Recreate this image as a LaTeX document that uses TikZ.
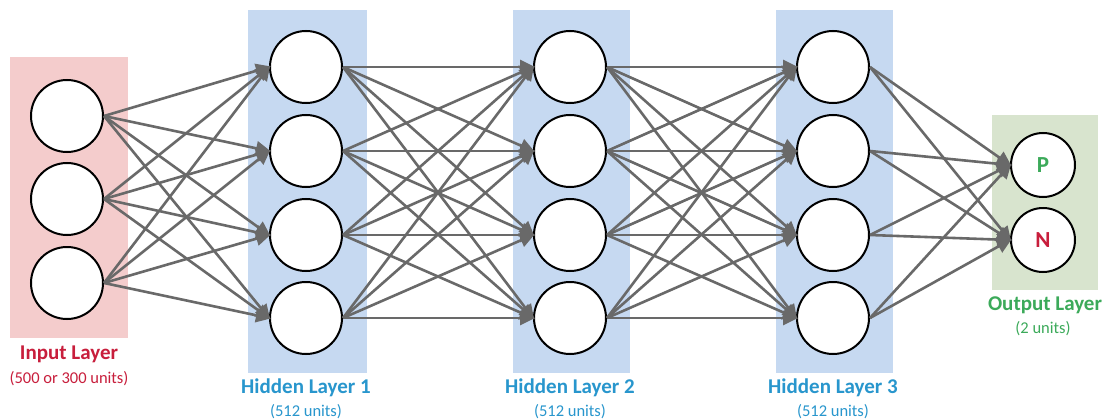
\documentclass[tikz,border=0pt]{standalone}
\usepackage{fontspec}
\setmainfont{Carlito}
\usetikzlibrary{arrows.meta}
\definecolor{inbg}{RGB}{244,204,204}
\definecolor{hidbg}{RGB}{198,217,241}
\definecolor{outbg}{RGB}{216,228,206}
\definecolor{inred}{RGB}{200,30,60}
\definecolor{hidblue}{RGB}{40,150,205}
\definecolor{outgreen}{RGB}{60,170,90}
\definecolor{conn}{RGB}{105,105,105}
\tikzset{
  neuron/.style={circle, draw=black, line width=2pt, fill=white, minimum size=72pt, inner sep=0pt, font=\fontsize{23}{23}\selectfont\bfseries},
  outneuron/.style={neuron, minimum size=64pt},
  conn/.style={draw=conn, line width=2.6pt, -{Triangle[length=15pt,width=14pt]}, shorten >=-2pt},
  title/.style={font=\fontsize{21}{21}\selectfont\bfseries},
  sub/.style={font=\fontsize{16.5}{16.5}\selectfont},
}
\begin{document}
\begin{tikzpicture}[x=1pt,y=-1pt]
\useasboundingbox (0,0) rectangle (1109,420);
\fill[white] (0,0) rectangle (1109,420);
% bands
\fill[inbg] (10,57) rectangle (128,338);
\fill[hidbg] (248,10) rectangle (367,373);
\fill[hidbg] (513,10) rectangle (630,373);
\fill[hidbg] (776,10) rectangle (893,373);
\fill[outbg] (992,115) rectangle (1098,290);
% nodes
\foreach \i/\y in {1/116,2/199,3/283} \node[neuron] (i\i) at (67,\y) {};
\foreach \i/\y in {1/67,2/151,3/235,4/318} {
  \node[neuron] (a\i) at (306,\y) {};
  \node[neuron] (b\i) at (570,\y) {};
  \node[neuron] (c\i) at (833,\y) {};
}
\node[outneuron, text=outgreen] (oP) at (1043,165) {P};
\node[outneuron, text=inred] (oN) at (1043,240) {N};
% connections
\foreach \s in {1,2,3} \foreach \t in {1,2,3,4} \draw[conn] (i\s.east) -- (a\t.west);
\foreach \s in {1,2,3,4} \foreach \t in {1,2,3,4} {
  \draw[conn] (a\s.east) -- (b\t.west);
  \draw[conn] (b\s.east) -- (c\t.west);
}
\foreach \s in {1,2,3,4} \foreach \t in {P,N} \draw[conn] (c\s.east) -- (o\t.west);
% labels
\node[title, text=inred] (tin) at (69,354) {Input Layer};
\node[sub, text=inred] (sin) at (69,379) {(500 or 300 units)};
\node[title, text=hidblue] (ta) at (306,388) {Hidden Layer 1};
\node[sub, text=hidblue] (sa) at (306,412) {(512 units)};
\node[title, text=hidblue] (tb) at (570,388) {Hidden Layer 2};
\node[sub, text=hidblue] (sb) at (570,412) {(512 units)};
\node[title, text=hidblue] (tc) at (833,388) {Hidden Layer 3};
\node[sub, text=hidblue] (sc) at (833,412) {(512 units)};
\node[title, text=outgreen] (tout) at (1045,305) {Output Layer};
\node[sub, text=outgreen] (sout) at (1043,329) {(2 units)};
\end{tikzpicture}
\end{document}
